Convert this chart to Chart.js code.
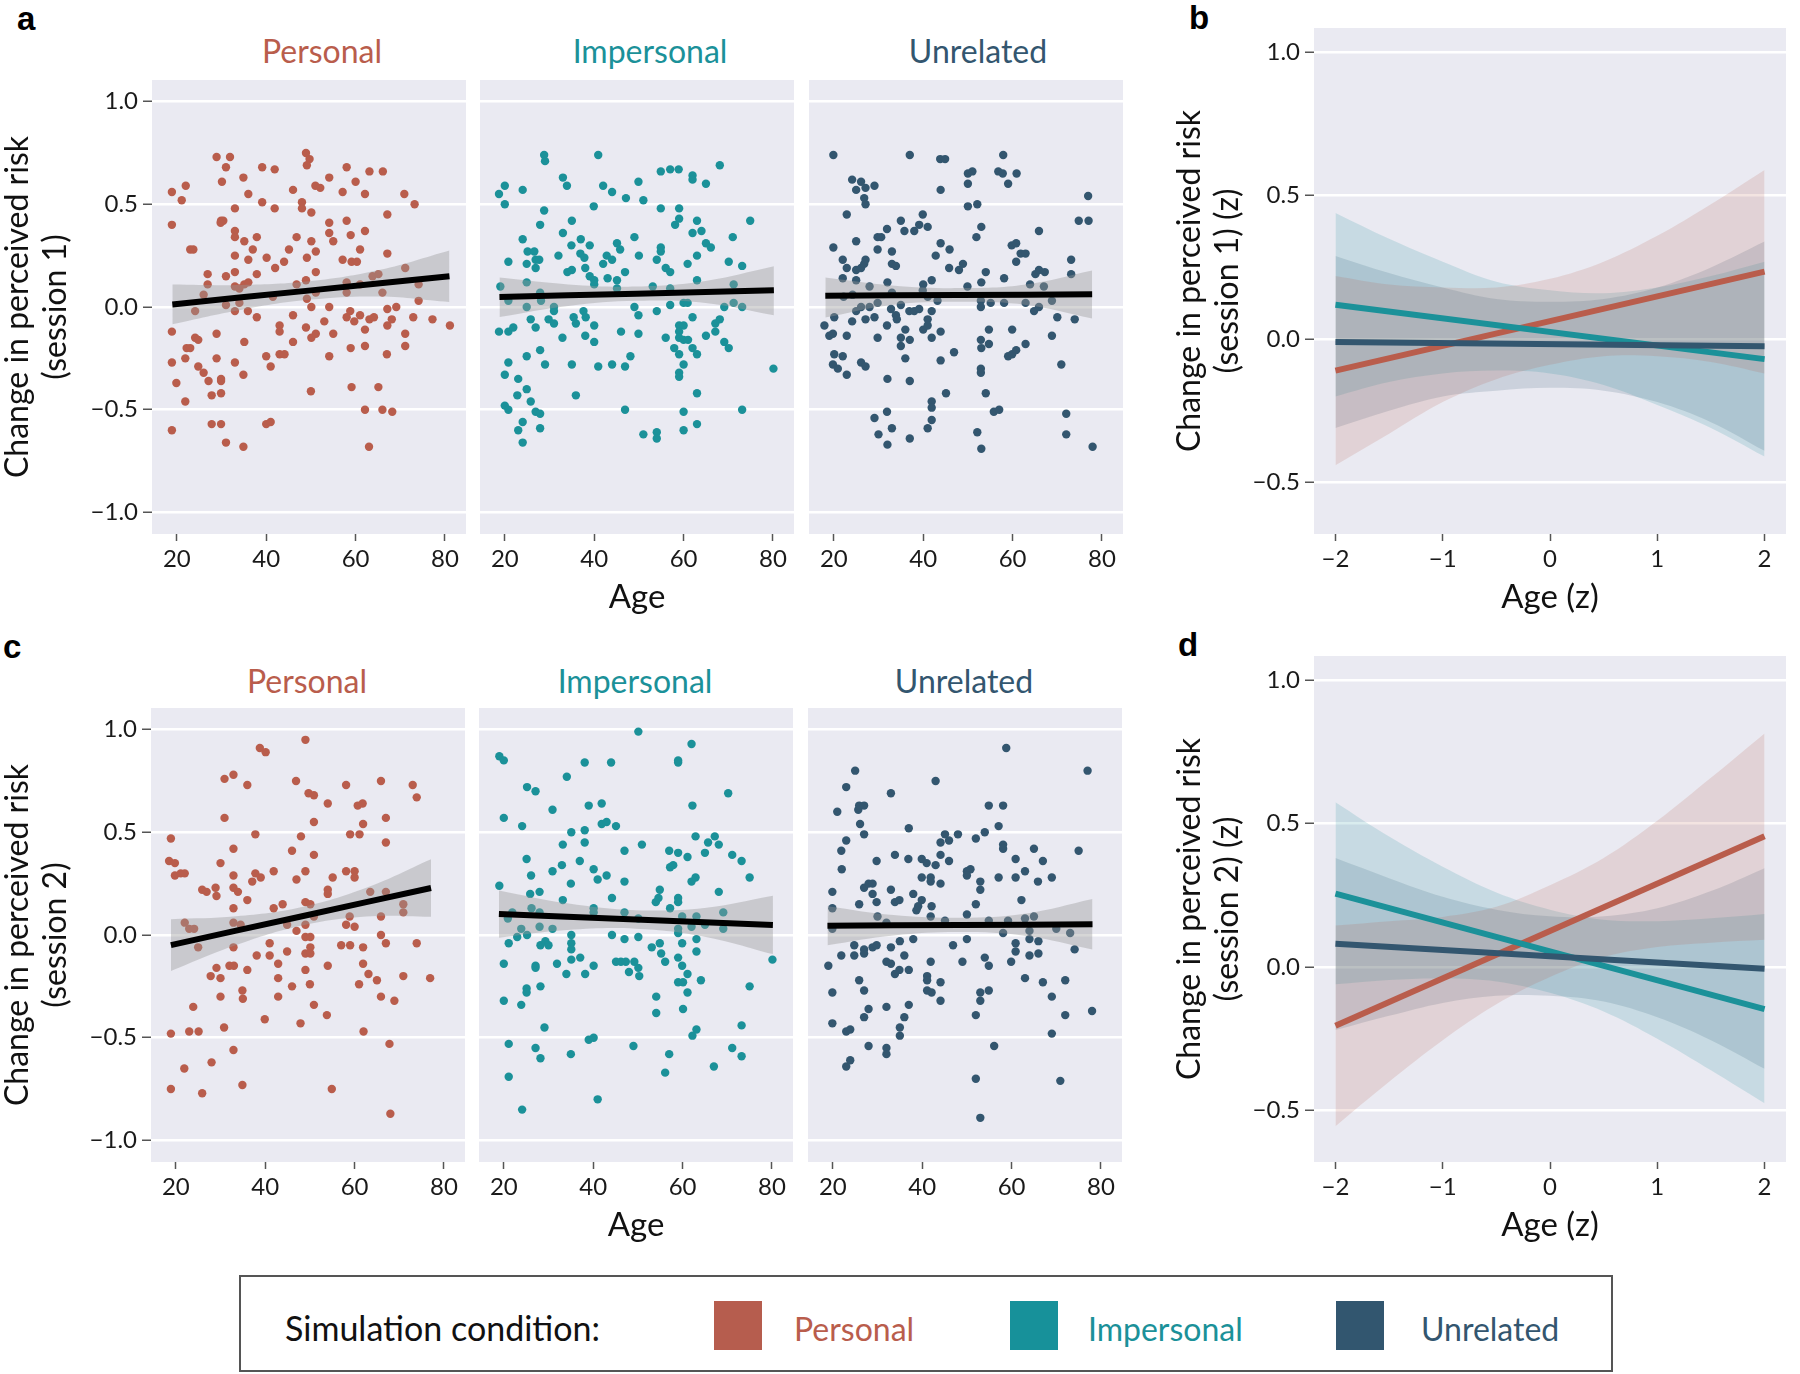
<!DOCTYPE html>
<html>
<head>
<meta charset="utf-8">
<title>Change in perceived risk by age</title>
<script src="https://cdn.jsdelivr.net/npm/chart.js@4.4.0/dist/chart.umd.min.js"></script>
<style>
  body { margin: 0; background: #fff; }
  #fig { position: relative; width: 1800px; height: 1374px; overflow: hidden; font-family: Lato, "Open Sans", sans-serif; }
  #fig canvas { position: absolute; }
  .letter { position: absolute; font: bold 33px "Liberation Sans", Arial, sans-serif; line-height: 1; color: #000; }
  .strip { position: absolute; width: 220px; text-align: center; font-size: 32px; line-height: 1; }
  .legend-box { position: absolute; left: 239px; top: 1275px; width: 1374px; height: 97px; border: 2px solid #555; box-sizing: border-box; }
  .legend-text { position: absolute; font-size: 32px; line-height: 1; white-space: nowrap; }
  .swatch { position: absolute; width: 48px; height: 49px; top: 1301px; }
</style>
</head>
<body>
<div id="fig">
  <div class="letter" style="left:17px;top:2px">a</div>
  <div class="letter" style="left:1189px;top:1px">b</div>
  <div class="letter" style="left:3px;top:630px">c</div>
  <div class="letter" style="left:1178px;top:628px">d</div>

  <div class="strip" style="left:212px;top:35px;color:#B95D4C">Personal</div>
  <div class="strip" style="left:540px;top:35px;color:#1B9199">Impersonal</div>
  <div class="strip" style="left:868px;top:35px;color:#33566F">Unrelated</div>
  <div class="strip" style="left:197px;top:665px;color:#B95D4C">Personal</div>
  <div class="strip" style="left:525px;top:665px;color:#1B9199">Impersonal</div>
  <div class="strip" style="left:854px;top:665px;color:#33566F">Unrelated</div>

  <div class="legend-box"></div>
  <div class="legend-text" style="left:285px;top:1311px;font-size:34px;color:#111">Simulation condition:</div>
  <div class="swatch" style="left:714px;background:#B65D4E"></div>
  <div class="legend-text" style="left:794px;top:1313px;color:#B95D4C">Personal</div>
  <div class="swatch" style="left:1010px;background:#17919A"></div>
  <div class="legend-text" style="left:1088px;top:1313px;color:#1B9199">Impersonal</div>
  <div class="swatch" style="left:1336px;background:#32566F"></div>
  <div class="legend-text" style="left:1421px;top:1313px;color:#33566F">Unrelated</div>
</div>

<script>
// ---- data ----
const conditions = ["Personal", "Impersonal", "Unrelated"];
const ageTicks = [20, 40, 60, 80];
const riskTicks = [-1, -0.5, 0, 0.5, 1];
const zTicks = [-2, -1, 0, 1, 2];
const zRiskTicks = [-0.5, 0, 0.5, 1];

// session 1, [age, change in perceived risk]
const s1Personal = [
  [28.9,0.73],[31.9,0.73],[31.0,0.68],[48.9,0.75],[49.7,0.72],[49.1,0.69],[39.1,0.68],[41.9,0.67],[34.9,0.63],[58.0,0.68],
  [63.1,0.66],[66.1,0.66],[54.1,0.63],[60.0,0.61],[30.1,0.61],[22.0,0.59],[18.9,0.56],[21.1,0.52],[36.0,0.55],[46.0,0.57],
  [51.0,0.59],[52.1,0.58],[57.1,0.56],[62.1,0.55],[70.9,0.55],[73.2,0.50],[33.0,0.48],[39.1,0.51],[41.9,0.48],[48.0,0.51],
  [48.0,0.48],[50.1,0.46],[67.1,0.45],[18.9,0.40],[29.9,0.42],[30.4,0.42],[29.8,0.41],[33.0,0.37],[33.0,0.34],[35.1,0.32],
  [37.9,0.34],[37.0,0.28],[46.8,0.34],[50.1,0.32],[54.1,0.41],[54.1,0.36],[55.0,0.32],[58.0,0.42],[58.9,0.35],[62.1,0.37],
  [61.0,0.28],[67.1,0.26],[23.0,0.28],[23.7,0.28],[33.0,0.25],[36.0,0.23],[40.1,0.24],[42.0,0.19],[44.0,0.22],[45.1,0.28],
  [49.1,0.24],[51.1,0.27],[57.1,0.23],[59.1,0.22],[60.3,0.22],[26.9,0.16],[26.9,0.11],[31.0,0.15],[33.0,0.17],[33.0,0.10],
  [34.0,0.09],[35.1,0.11],[36.0,0.12],[37.9,0.16],[26.0,0.06],[46.8,0.11],[48.9,0.13],[49.1,0.04],[51.1,0.17],[51.1,0.07],
  [58.0,0.12],[58.0,0.07],[61.0,0.11],[63.8,0.15],[65.1,0.16],[66.0,0.07],[71.1,0.19],[74.1,0.11],[74.1,0.03],[24.1,-0.02],
  [31.0,0.01],[33.0,-0.02],[34.0,0.02],[35.9,-0.02],[37.9,-0.05],[41.5,0.05],[46.0,-0.04],[50.1,0.00],[54.1,0.00],[53.0,-0.07],
  [58.0,-0.05],[58.8,-0.02],[59.7,-0.07],[61.0,-0.04],[62.1,-0.11],[63.1,-0.06],[64.1,-0.05],[67.1,-0.01],[67.1,-0.09],[68.1,-0.06],
  [69.1,0.00],[72.9,-0.05],[77.2,-0.06],[81.1,-0.09],[18.9,-0.12],[24.1,-0.15],[24.8,-0.16],[28.9,-0.13],[43.0,-0.09],[43.0,-0.12],
  [48.9,-0.10],[51.1,-0.13],[50.1,-0.15],[55.0,-0.13],[35.1,-0.17],[46.0,-0.17],[22.2,-0.20],[23.0,-0.20],[21.9,-0.25],[28.9,-0.25],
  [33.0,-0.27],[40.0,-0.24],[43.0,-0.23],[44.1,-0.23],[54.1,-0.24],[58.9,-0.20],[62.1,-0.19],[67.0,-0.23],[71.1,-0.13],[71.1,-0.19],
  [18.9,-0.27],[24.8,-0.29],[26.0,-0.32],[27.1,-0.36],[29.9,-0.35],[29.9,-0.36],[34.9,-0.33],[41.0,-0.29],[19.9,-0.37],[27.8,-0.43],
  [29.9,-0.42],[21.9,-0.46],[50.0,-0.41],[59.1,-0.39],[65.1,-0.39],[62.1,-0.50],[66.0,-0.50],[68.2,-0.51],[18.9,-0.60],[27.8,-0.57],
  [29.9,-0.57],[40.0,-0.57],[41.0,-0.56],[31.0,-0.66],[34.9,-0.68],[63.0,-0.68]
];
const s1Impersonal = [
  [28.8,0.74],[29.0,0.71],[40.9,0.74],[33.0,0.63],[33.9,0.59],[24.0,0.57],[20.0,0.59],[18.7,0.55],[20.0,0.50],[42.0,0.59],
  [44.0,0.56],[47.1,0.53],[49.9,0.61],[51.0,0.52],[54.9,0.66],[57.0,0.67],[58.9,0.67],[62.0,0.64],[62.0,0.62],[65.0,0.60],
  [68.1,0.69],[39.9,0.49],[28.8,0.47],[54.9,0.48],[59.0,0.48],[59.0,0.43],[58.1,0.40],[63.0,0.42],[62.0,0.36],[64.0,0.37],
  [74.9,0.42],[27.9,0.40],[35.0,0.42],[33.0,0.36],[24.0,0.33],[37.0,0.33],[34.9,0.30],[39.0,0.30],[49.0,0.34],[45.1,0.31],
  [45.8,0.28],[54.9,0.29],[54.9,0.27],[65.0,0.31],[66.1,0.29],[71.0,0.34],[25.1,0.27],[26.6,0.27],[26.9,0.23],[27.7,0.23],
  [32.0,0.25],[36.9,0.26],[37.8,0.24],[42.8,0.25],[44.0,0.23],[42.0,0.21],[50.0,0.25],[54.0,0.23],[56.0,0.19],[57.0,0.17],
  [60.9,0.21],[63.0,0.25],[70.1,0.22],[73.1,0.20],[20.8,0.22],[24.9,0.21],[26.9,0.19],[34.0,0.17],[35.0,0.18],[38.0,0.19],
  [39.0,0.15],[43.0,0.14],[45.1,0.13],[46.9,0.17],[24.9,0.12],[40.0,0.13],[40.0,0.11],[45.1,0.09],[53.1,0.10],[57.0,0.09],
  [63.0,0.13],[71.2,0.11],[19.0,0.10],[27.9,0.07],[28.1,0.03],[20.8,0.03],[24.9,0.00],[31.0,0.00],[31.0,-0.02],[35.4,-0.05],
  [37.6,-0.02],[38.1,-0.05],[49.0,0.00],[49.9,-0.04],[54.0,-0.02],[57.0,0.01],[60.0,0.02],[60.9,0.02],[62.0,-0.05],[69.1,0.00],
  [71.2,0.02],[73.1,0.00],[25.8,-0.06],[26.9,-0.10],[29.8,-0.06],[31.0,-0.08],[35.9,-0.08],[40.0,-0.09],[18.7,-0.12],[20.8,-0.12],
  [21.9,-0.10],[32.9,-0.15],[38.0,-0.14],[40.0,-0.17],[46.0,-0.12],[49.9,-0.13],[56.0,-0.15],[59.0,-0.09],[60.0,-0.09],[59.0,-0.12],
  [59.0,-0.15],[60.0,-0.16],[61.0,-0.16],[62.0,-0.20],[63.0,-0.23],[57.9,-0.20],[59.0,-0.23],[65.0,-0.14],[67.1,-0.12],[67.1,-0.08],
  [68.1,-0.06],[69.1,-0.17],[70.1,-0.20],[20.8,-0.27],[24.9,-0.24],[27.9,-0.21],[29.0,-0.28],[35.0,-0.28],[40.9,-0.29],[44.0,-0.28],
  [46.9,-0.29],[48.1,-0.24],[60.0,-0.28],[59.0,-0.32],[59.0,-0.34],[20.0,-0.33],[23.0,-0.35],[80.1,-0.30],[24.9,-0.40],[22.8,-0.43],
  [25.8,-0.46],[35.9,-0.43],[63.0,-0.42],[20.0,-0.48],[20.8,-0.50],[26.9,-0.51],[27.9,-0.52],[46.9,-0.50],[60.0,-0.51],[73.1,-0.50],
  [24.0,-0.56],[23.0,-0.60],[27.9,-0.59],[24.0,-0.66],[51.0,-0.62],[54.0,-0.61],[54.0,-0.64],[60.0,-0.60],[63.0,-0.57]
];
const s1Unrelated = [
  [19.9,0.74],[37.0,0.74],[43.8,0.72],[44.9,0.72],[57.9,0.74],[24.1,0.62],[26.1,0.61],[27.1,0.58],[25.0,0.57],[29.1,0.59],
  [26.8,0.53],[27.1,0.50],[43.9,0.57],[50.0,0.65],[51.0,0.66],[50.0,0.60],[56.8,0.66],[57.8,0.65],[60.9,0.65],[59.0,0.60],
  [76.9,0.54],[22.9,0.45],[39.9,0.45],[35.0,0.42],[35.8,0.37],[38.0,0.37],[39.1,0.40],[41.0,0.39],[50.0,0.49],[52.1,0.50],
  [53.0,0.39],[51.9,0.34],[74.8,0.42],[77.0,0.42],[65.9,0.37],[19.9,0.29],[25.0,0.32],[31.9,0.38],[29.8,0.34],[30.6,0.34],
  [29.8,0.28],[33.0,0.27],[22.0,0.23],[22.9,0.19],[25.0,0.18],[26.1,0.19],[27.1,0.23],[26.8,0.21],[33.0,0.21],[33.9,0.20],
  [43.9,0.31],[42.8,0.25],[45.9,0.28],[45.8,0.19],[48.0,0.18],[48.9,0.21],[59.8,0.30],[60.8,0.31],[61.8,0.26],[62.9,0.26],
  [60.8,0.22],[54.0,0.17],[53.0,0.12],[58.1,0.14],[65.1,0.16],[65.9,0.18],[67.2,0.17],[73.1,0.23],[73.1,0.16],[22.0,0.14],
  [25.0,0.13],[28.0,0.10],[32.0,0.12],[41.9,0.13],[40.0,0.11],[49.9,0.10],[63.9,0.11],[67.0,0.10],[24.2,0.06],[22.2,0.05],
  [39.9,0.08],[41.0,0.05],[43.2,0.03],[33.0,0.07],[29.8,0.02],[35.0,0.01],[52.9,0.03],[52.9,0.00],[55.1,0.02],[58.1,0.02],
  [62.9,0.02],[68.8,0.03],[64.8,-0.02],[65.9,0.00],[25.0,-0.02],[26.1,0.00],[28.0,0.00],[27.1,-0.06],[29.1,-0.05],[24.1,-0.07],
  [32.8,-0.01],[33.9,-0.04],[34.1,-0.06],[36.9,-0.02],[38.0,-0.02],[39.1,-0.01],[41.9,-0.02],[41.0,-0.06],[20.1,-0.05],[70.0,-0.05],
  [73.9,-0.06],[17.9,-0.09],[19.0,-0.14],[19.8,-0.13],[22.9,-0.14],[29.8,-0.15],[31.9,-0.09],[36.0,-0.11],[35.0,-0.15],[37.0,-0.16],
  [35.0,-0.19],[40.0,-0.11],[41.0,-0.09],[41.9,-0.15],[43.9,-0.12],[54.7,-0.11],[52.9,-0.16],[53.0,-0.20],[54.7,-0.18],[59.9,-0.11],
  [62.9,-0.18],[68.8,-0.14],[20.1,-0.23],[22.0,-0.24],[19.8,-0.28],[20.9,-0.30],[22.9,-0.33],[26.1,-0.27],[27.1,-0.29],[36.0,-0.25],
  [43.9,-0.26],[46.9,-0.22],[59.0,-0.24],[59.9,-0.23],[60.8,-0.21],[70.9,-0.28],[32.0,-0.35],[37.0,-0.36],[52.9,-0.30],[52.9,-0.32],
  [45.1,-0.42],[54.0,-0.42],[41.9,-0.46],[41.9,-0.49],[31.9,-0.51],[29.1,-0.54],[41.9,-0.55],[41.0,-0.59],[33.0,-0.59],[30.0,-0.62],
  [55.8,-0.51],[57.0,-0.50],[72.0,-0.52],[32.0,-0.67],[37.0,-0.64],[52.1,-0.61],[53.0,-0.69],[72.0,-0.62],[77.9,-0.68]
];

// session 2, [age, change in perceived risk]
const s2Personal = [
  [49.0,0.95],[38.8,0.91],[40.1,0.89],[30.9,0.76],[32.9,0.78],[36.0,0.73],[46.9,0.75],[58.1,0.73],[65.9,0.75],[73.0,0.73],
  [73.9,0.67],[49.7,0.69],[50.9,0.68],[54.0,0.64],[60.7,0.63],[61.8,0.64],[30.9,0.57],[50.9,0.55],[61.9,0.54],[67.0,0.57],
  [18.9,0.47],[37.8,0.49],[48.0,0.48],[59.0,0.49],[61.1,0.49],[67.0,0.45],[32.9,0.42],[46.0,0.41],[50.9,0.39],[18.5,0.36],
  [19.8,0.35],[30.0,0.35],[19.8,0.29],[21.1,0.30],[22.0,0.30],[32.9,0.29],[37.8,0.30],[37.1,0.26],[39.0,0.28],[41.9,0.31],
  [47.0,0.27],[49.0,0.31],[55.1,0.28],[58.1,0.31],[60.0,0.31],[60.0,0.28],[25.9,0.22],[26.9,0.21],[28.9,0.23],[29.1,0.19],
  [32.9,0.23],[33.9,0.21],[36.0,0.17],[54.0,0.22],[54.0,0.20],[63.5,0.21],[67.0,0.21],[32.9,0.13],[41.9,0.13],[43.9,0.15],
  [49.0,0.16],[50.1,0.15],[70.9,0.15],[70.9,0.11],[22.0,0.06],[23.0,0.03],[24.1,0.03],[32.9,0.06],[34.5,0.05],[44.9,0.05],
  [47.0,0.02],[49.0,0.05],[50.9,0.09],[58.9,0.09],[58.1,0.05],[60.0,0.04],[65.9,0.09],[25.0,-0.06],[32.9,-0.06],[41.0,-0.04],
  [38.1,-0.10],[41.0,-0.10],[44.9,-0.08],[49.0,-0.01],[50.1,-0.01],[50.1,-0.06],[49.0,-0.09],[50.1,-0.09],[57.0,-0.05],[59.0,-0.05],
  [61.9,-0.06],[65.9,0.00],[67.0,-0.04],[73.9,-0.04],[27.8,-0.20],[29.1,-0.16],[30.0,-0.21],[32.0,-0.15],[33.0,-0.15],[36.0,-0.17],
  [42.9,-0.14],[42.9,-0.21],[49.0,-0.17],[50.0,-0.24],[46.0,-0.25],[54.0,-0.15],[61.0,-0.24],[61.9,-0.14],[63.1,-0.19],[65.0,-0.22],
  [70.9,-0.20],[76.9,-0.21],[23.9,-0.35],[30.0,-0.30],[34.9,-0.27],[35.0,-0.31],[42.9,-0.30],[50.9,-0.34],[65.9,-0.30],[68.9,-0.32],
  [39.9,-0.41],[47.9,-0.43],[53.8,-0.39],[18.9,-0.48],[23.0,-0.47],[25.1,-0.47],[30.8,-0.45],[62.0,-0.47],[32.9,-0.56],[67.8,-0.53],
  [21.9,-0.65],[28.0,-0.62],[18.9,-0.75],[25.9,-0.77],[34.9,-0.73],[54.9,-0.75],[68.0,-0.87]
];
const s2Impersonal = [
  [19.0,0.87],[20.0,0.85],[50.1,0.99],[62.0,0.93],[38.1,0.84],[44.0,0.84],[59.0,0.85],[59.0,0.84],[34.1,0.77],[25.2,0.72],
  [27.1,0.70],[70.2,0.69],[30.9,0.61],[39.0,0.63],[41.9,0.64],[62.2,0.63],[20.0,0.57],[24.1,0.53],[41.9,0.54],[43.0,0.55],
  [45.1,0.53],[35.1,0.50],[38.1,0.51],[38.1,0.45],[62.9,0.48],[65.7,0.45],[67.2,0.48],[68.1,0.44],[33.2,0.44],[50.9,0.44],
  [47.0,0.41],[57.0,0.41],[59.0,0.40],[61.1,0.38],[65.0,0.40],[71.1,0.39],[73.2,0.36],[25.1,0.37],[33.0,0.34],[37.0,0.36],
  [30.9,0.31],[26.1,0.29],[40.1,0.32],[41.0,0.27],[43.0,0.29],[57.2,0.33],[57.9,0.34],[47.0,0.26],[62.0,0.26],[62.9,0.28],
  [75.0,0.28],[19.0,0.24],[35.0,0.25],[25.9,0.20],[28.0,0.21],[54.9,0.22],[54.0,0.16],[54.6,0.18],[59.0,0.18],[59.0,0.16],
  [33.2,0.17],[44.2,0.18],[68.1,0.21],[57.2,0.13],[63.1,0.09],[26.2,0.13],[21.9,0.11],[28.0,0.11],[20.9,0.08],[40.1,0.13],
  [40.1,0.11],[47.0,0.11],[50.1,0.08],[59.9,0.09],[62.0,0.04],[65.0,0.05],[69.1,0.11],[69.1,0.03],[59.0,0.03],[59.0,0.01],
  [23.9,0.03],[28.0,0.04],[30.9,0.03],[23.0,-0.01],[25.2,0.00],[21.1,-0.04],[28.2,-0.05],[29.3,-0.03],[30.0,-0.05],[35.1,0.00],
  [35.1,-0.04],[35.1,-0.07],[35.1,-0.12],[37.1,-0.11],[44.2,0.00],[47.0,-0.02],[50.1,-0.01],[53.1,-0.06],[54.9,-0.04],[55.2,-0.09],
  [56.1,-0.13],[59.0,-0.11],[59.9,-0.04],[63.1,-0.02],[63.1,-0.08],[20.0,-0.14],[27.1,-0.15],[27.1,-0.16],[31.9,-0.14],[34.0,-0.19],
  [38.2,-0.19],[40.1,-0.15],[45.1,-0.13],[46.2,-0.13],[47.3,-0.13],[49.2,-0.13],[50.1,-0.16],[48.0,-0.18],[50.3,-0.20],[59.9,-0.15],
  [61.1,-0.19],[59.0,-0.23],[60.1,-0.23],[61.1,-0.28],[64.1,-0.22],[80.1,-0.12],[28.2,-0.25],[25.1,-0.26],[25.1,-0.28],[54.1,-0.30],
  [54.1,-0.38],[60.1,-0.36],[75.0,-0.25],[20.0,-0.32],[23.9,-0.34],[29.1,-0.45],[39.0,-0.51],[40.1,-0.50],[21.1,-0.53],[27.1,-0.55],
  [28.2,-0.60],[35.0,-0.58],[49.0,-0.54],[57.0,-0.58],[62.2,-0.49],[63.1,-0.46],[73.2,-0.44],[71.1,-0.55],[73.2,-0.59],[67.0,-0.64],
  [21.1,-0.69],[24.1,-0.85],[41.0,-0.80],[56.1,-0.67]
];
const s2Unrelated = [
  [58.8,0.91],[77.0,0.80],[25.0,0.80],[23.0,0.72],[43.0,0.75],[33.0,0.69],[21.0,0.60],[25.7,0.61],[25.9,0.63],[27.0,0.63],
  [26.1,0.54],[27.0,0.49],[23.0,0.46],[37.0,0.52],[54.9,0.63],[58.1,0.63],[57.1,0.53],[45.1,0.49],[46.0,0.46],[44.1,0.45],
  [48.0,0.49],[52.0,0.47],[54.0,0.50],[58.1,0.44],[58.1,0.42],[65.0,0.42],[75.0,0.41],[21.9,0.41],[22.0,0.32],[29.8,0.36],
  [33.9,0.39],[36.9,0.37],[39.9,0.37],[41.0,0.35],[43.0,0.34],[44.1,0.39],[46.0,0.36],[60.9,0.37],[67.0,0.36],[50.0,0.31],
  [50.8,0.32],[50.0,0.29],[53.0,0.26],[53.0,0.22],[57.1,0.28],[60.9,0.28],[63.0,0.31],[65.9,0.26],[69.0,0.28],[39.9,0.28],
  [41.9,0.28],[41.9,0.26],[44.1,0.25],[27.0,0.23],[28.0,0.25],[28.9,0.25],[28.9,0.20],[29.8,0.16],[33.0,0.22],[33.9,0.16],
  [34.9,0.17],[38.0,0.20],[39.9,0.17],[39.1,0.14],[38.7,0.12],[42.1,0.14],[62.2,0.17],[52.0,0.15],[19.9,0.21],[25.9,0.15],
  [19.9,0.13],[30.0,0.09],[32.0,0.06],[41.9,0.09],[45.1,0.07],[50.0,0.10],[54.9,0.07],[59.2,0.07],[63.0,0.08],[65.0,0.09],
  [64.0,0.02],[64.0,-0.02],[66.0,-0.03],[70.0,0.03],[73.1,0.01],[58.1,0.01],[19.9,0.03],[74.1,-0.07],[24.8,-0.05],[27.0,-0.07],
  [28.9,-0.06],[29.8,-0.05],[33.0,-0.06],[35.0,-0.03],[38.0,-0.02],[50.0,-0.02],[46.9,-0.05],[21.9,-0.10],[24.8,-0.10],[27.0,-0.09],
  [32.0,-0.13],[33.0,-0.14],[36.0,-0.10],[34.9,-0.17],[33.9,-0.19],[37.0,-0.17],[41.9,-0.13],[41.1,-0.20],[41.1,-0.22],[44.1,-0.23],
  [49.0,-0.13],[54.0,-0.11],[54.9,-0.15],[59.9,-0.13],[60.9,-0.08],[60.9,-0.04],[64.0,-0.10],[66.0,-0.09],[63.0,-0.21],[67.0,-0.23],
  [72.0,-0.22],[19.0,-0.15],[25.9,-0.22],[27.0,-0.27],[19.9,-0.28],[28.0,-0.36],[32.0,-0.35],[37.0,-0.34],[41.1,-0.27],[42.1,-0.28],
  [44.1,-0.32],[53.0,-0.28],[53.0,-0.32],[54.9,-0.27],[52.0,-0.39],[36.0,-0.40],[27.0,-0.40],[19.9,-0.43],[23.0,-0.47],[23.9,-0.46],
  [35.0,-0.45],[35.0,-0.49],[69.0,-0.30],[72.0,-0.39],[69.0,-0.48],[78.0,-0.37],[28.0,-0.54],[32.0,-0.55],[32.0,-0.58],[23.0,-0.64],
  [23.9,-0.61],[56.1,-0.54],[52.0,-0.70],[70.9,-0.71],[53.0,-0.89]
];

// linear fits with 95% bands (facets)
const s1PersonalFitAge = [19, 34.5, 50, 65.5, 81];
const s1PersonalFit = [0.012, 0.047, 0.081, 0.116, 0.15];
const s1PersonalFitLow = [-0.084, -0.013, 0.036, 0.051, 0.024];
const s1PersonalFitHigh = [0.109, 0.107, 0.126, 0.181, 0.275];
const s1ImpersonalFitAge = [18.8, 34.2, 49.5, 64.9, 80.2];
const s1ImpersonalFit = [0.049, 0.057, 0.065, 0.073, 0.081];
const s1ImpersonalFitLow = [-0.049, 0.005, 0.03, 0.02, -0.04];
const s1ImpersonalFitHigh = [0.143, 0.11, 0.1, 0.127, 0.198];
const s1UnrelatedFitAge = [18.1, 33, 48, 63, 77.8];
const s1UnrelatedFit = [0.055, 0.057, 0.058, 0.06, 0.062];
const s1UnrelatedFitLow = [-0.051, 0.01, 0.025, 0.01, -0.056];
const s1UnrelatedFitHigh = [0.143, 0.105, 0.092, 0.11, 0.178];
const s2PersonalFitAge = [18.9, 33.5, 48, 62.6, 77.1];
const s2PersonalFit = [-0.049, 0.021, 0.09, 0.16, 0.229];
const s2PersonalFitLow = [-0.175, -0.049, 0.045, 0.09, 0.089];
const s2PersonalFitHigh = [0.077, 0.091, 0.135, 0.23, 0.369];
const s2ImpersonalFitAge = [18.9, 34.2, 49.5, 64.9, 80.2];
const s2ImpersonalFit = [0.102, 0.089, 0.076, 0.062, 0.049];
const s2ImpersonalFitLow = [-0.013, 0.024, 0.031, -0.008, -0.093];
const s2ImpersonalFitHigh = [0.217, 0.154, 0.121, 0.132, 0.191];
const s2UnrelatedFitAge = [18.8, 33.6, 48.5, 63.3, 78.1];
const s2UnrelatedFit = [0.045, 0.047, 0.049, 0.05, 0.052];
const s2UnrelatedFitLow = [-0.05, -0.003, 0.014, -0.005, -0.071];
const s2UnrelatedFitHigh = [0.14, 0.097, 0.084, 0.105, 0.175];

// model predictions over standardised age (panels b, d)
const lineZ = [-2, 2];
const bandZ = [-2, -1.5, -1, -0.5, 0, 0.5, 1, 1.5, 2];
const s1PersonalLine = [-0.11, 0.235];
const s1PersonalHigh = [0.22, 0.19, 0.18, 0.18, 0.21, 0.27, 0.36, 0.47, 0.59];
const s1PersonalLow = [-0.44, -0.33, -0.22, -0.14, -0.09, -0.06, -0.06, -0.08, -0.12];
const s1ImpersonalLine = [0.12, -0.07];
const s1ImpersonalHigh = [0.44, 0.35, 0.27, 0.2, 0.17, 0.16, 0.18, 0.22, 0.27];
const s1ImpersonalLow = [-0.2, -0.15, -0.12, -0.11, -0.12, -0.16, -0.23, -0.31, -0.41];
const s1UnrelatedLine = [-0.01, -0.025];
const s1UnrelatedHigh = [0.29, 0.23, 0.18, 0.14, 0.13, 0.14, 0.18, 0.25, 0.34];
const s1UnrelatedLow = [-0.31, -0.25, -0.2, -0.18, -0.17, -0.18, -0.22, -0.29, -0.39];
const s2PersonalLine = [-0.205, 0.456];
const s2PersonalHigh = [0.145, 0.16, 0.175, 0.21, 0.285, 0.38, 0.51, 0.66, 0.815];
const s2PersonalLow = [-0.555, -0.4, -0.255, -0.13, -0.035, 0.035, 0.07, 0.085, 0.095];
const s2ImpersonalLine = [0.256, -0.147];
const s2ImpersonalHigh = [0.575, 0.455, 0.35, 0.26, 0.2, 0.165, 0.16, 0.17, 0.185];
const s2ImpersonalLow = [-0.06, -0.045, -0.04, -0.05, -0.09, -0.155, -0.25, -0.36, -0.475];
const s2UnrelatedLine = [0.081, -0.006];
const s2UnrelatedHigh = [0.38, 0.31, 0.245, 0.2, 0.177, 0.177, 0.205, 0.265, 0.345];
const s2UnrelatedLow = [-0.22, -0.17, -0.125, -0.1, -0.1, -0.12, -0.175, -0.255, -0.355];

// ---- styling ----
const COLORS = { Personal: "#B95D4C", Impersonal: "#1B9199", Unrelated: "#33566F" };
const BANDS = { Personal: "rgba(185,93,76,0.17)", Impersonal: "rgba(27,145,153,0.17)", Unrelated: "rgba(51,86,111,0.17)" };
const PANEL_BG = "#EAEAF2";
const TICK_COLOR = "#555";

Chart.defaults.font.family = "Lato, 'Open Sans', sans-serif";
Chart.defaults.color = "#1a1a1a";

// grey panel behind each plot area
const panelBg = {
  id: "panelBg",
  beforeDraw(chart) {
    const a = chart.chartArea;
    const ctx = chart.ctx;
    ctx.save();
    ctx.fillStyle = PANEL_BG;
    ctx.fillRect(a.left, a.top, a.right - a.left, a.bottom - a.top);
    ctx.restore();
  }
};

function minusFmt(v, digits) {
  const s = Math.abs(v).toFixed(digits);
  return v < 0 ? "\u2212" + s : s;
}

function pairs(xs, ys) {
  return xs.map((x, i) => ({ x: x, y: ys[i] }));
}

function makeCanvas(box) {
  const c = document.createElement("canvas");
  c.width = box.w;
  c.height = box.h;
  c.style.left = box.left + "px";
  c.style.top = box.top + "px";
  c.style.width = box.w + "px";
  c.style.height = box.h + "px";
  document.getElementById("fig").appendChild(c);
  return c;
}

function xAxis(min, max, ticks, fmt, title) {
  return {
    type: "linear", min: min, max: max,
    afterBuildTicks: s => { s.ticks = ticks.map(v => ({ value: v })); },
    afterFit: s => { s.height = 90; s.paddingLeft = 0; s.paddingRight = 0; },
    border: { display: false },
    grid: { drawOnChartArea: false, tickLength: 7, tickColor: TICK_COLOR, tickWidth: 1.5 },
    ticks: { padding: 4, font: { size: 24 }, maxRotation: 0, callback: fmt },
    title: { display: !!title, text: title || "", font: { size: 33 }, color: "#111", padding: { top: 0, bottom: 7 } }
  };
}

function yAxis(min, max, ticks, width, title) {
  const show = width > 0;
  return {
    type: "linear", min: min, max: max,
    afterBuildTicks: s => { s.ticks = ticks.map(v => ({ value: v })); },
    // keep the plot area flush with the canvas top, like the facet panels
    afterFit: s => { s.width = width; s.paddingTop = 0; s.paddingBottom = 0; },
    border: { display: false },
    grid: { color: "#fff", lineWidth: 2.5, drawTicks: show, tickLength: 9, tickColor: TICK_COLOR, tickWidth: 1.5 },
    ticks: { display: show, padding: 5, font: { size: 24 }, callback: v => minusFmt(v, 1) },
    title: { display: !!title, text: title || "", font: { size: 32, lineHeight: 1.2 }, color: "#111", padding: { top: -2, bottom: 0 } }
  };
}

function baseOptions(scales) {
  return {
    responsive: false,
    animation: false,
    events: [],
    layout: { padding: 0, autoPadding: false },
    plugins: { legend: { display: false }, tooltip: { enabled: false } },
    scales: scales
  };
}

function drawFacet(box, cond, points, fitAge, fit, low, high, yWidth, yTitle, xTitle) {
  new Chart(makeCanvas(box), {
    type: "line",
    data: {
      datasets: [
        { data: points, showLine: false, pointRadius: 4.2, pointBorderWidth: 0, pointBackgroundColor: COLORS[cond], order: 3 },
        { data: pairs(fitAge, low), borderWidth: 0, borderColor: "transparent", pointRadius: 0, tension: 0.4, order: 2 },
        { data: pairs(fitAge, high), borderWidth: 0, borderColor: "transparent", pointRadius: 0, tension: 0.4,
          fill: "-1", backgroundColor: "rgba(153,153,153,0.4)", order: 2 },
        { data: pairs(fitAge, fit), borderColor: "#000", borderWidth: 6, pointRadius: 0, order: 1 }
      ]
    },
    options: baseOptions({
      x: xAxis(14.45, 84.7, ageTicks, v => String(v), xTitle),
      y: yAxis(-1.105, 1.105, riskTicks, yWidth, yTitle)
    }),
    plugins: [panelBg]
  });
}

function drawEffects(box, series, yTitle) {
  const datasets = [];
  series.forEach(s => {
    datasets.push({ data: pairs(bandZ, s.low), borderWidth: 0, borderColor: "transparent", pointRadius: 0, tension: 0.35, order: 10 });
    datasets.push({ data: pairs(bandZ, s.high), borderWidth: 0, borderColor: "transparent", pointRadius: 0, tension: 0.35,
                    fill: "-1", backgroundColor: BANDS[s.cond], order: 10 });
  });
  series.forEach((s, i) => {
    datasets.push({ data: pairs(lineZ, s.line), borderColor: COLORS[s.cond], borderWidth: 6, pointRadius: 0, order: 3 - i });
  });
  new Chart(makeCanvas(box), {
    type: "line",
    data: { datasets: datasets },
    options: baseOptions({
      x: xAxis(-2.2, 2.2, zTicks, v => minusFmt(v, 0), "Age (z)"),
      y: yAxis(-0.68, 1.085, zRiskTicks, 142, yTitle)
    }),
    plugins: [panelBg]
  });
}

// ---- panels a and c ----
const title1 = ["Change in perceived risk", "(session 1)"];
const title2 = ["Change in perceived risk", "(session 2)"];

drawFacet({ left: 0, top: 80, w: 466, h: 544 }, "Personal", s1Personal,
  s1PersonalFitAge, s1PersonalFit, s1PersonalFitLow, s1PersonalFitHigh, 152, title1, "");
drawFacet({ left: 480, top: 80, w: 314, h: 544 }, "Impersonal", s1Impersonal,
  s1ImpersonalFitAge, s1ImpersonalFit, s1ImpersonalFitLow, s1ImpersonalFitHigh, 0, "", "Age");
drawFacet({ left: 809, top: 80, w: 314, h: 544 }, "Unrelated", s1Unrelated,
  s1UnrelatedFitAge, s1UnrelatedFit, s1UnrelatedFitLow, s1UnrelatedFitHigh, 0, "", "");

drawFacet({ left: 0, top: 708, w: 465, h: 544 }, "Personal", s2Personal,
  s2PersonalFitAge, s2PersonalFit, s2PersonalFitLow, s2PersonalFitHigh, 151, title2, "");
drawFacet({ left: 479, top: 708, w: 314, h: 544 }, "Impersonal", s2Impersonal,
  s2ImpersonalFitAge, s2ImpersonalFit, s2ImpersonalFitLow, s2ImpersonalFitHigh, 0, "", "Age");
drawFacet({ left: 808, top: 708, w: 314, h: 544 }, "Unrelated", s2Unrelated,
  s2UnrelatedFitAge, s2UnrelatedFit, s2UnrelatedFitLow, s2UnrelatedFitHigh, 0, "", "");

// ---- panels b and d ----
drawEffects({ left: 1172, top: 28, w: 614, h: 596 }, [
  { cond: "Personal", line: s1PersonalLine, low: s1PersonalLow, high: s1PersonalHigh },
  { cond: "Impersonal", line: s1ImpersonalLine, low: s1ImpersonalLow, high: s1ImpersonalHigh },
  { cond: "Unrelated", line: s1UnrelatedLine, low: s1UnrelatedLow, high: s1UnrelatedHigh }
], ["Change in perceived risk", "(session 1) (z)"]);

drawEffects({ left: 1172, top: 656, w: 614, h: 596 }, [
  { cond: "Personal", line: s2PersonalLine, low: s2PersonalLow, high: s2PersonalHigh },
  { cond: "Impersonal", line: s2ImpersonalLine, low: s2ImpersonalLow, high: s2ImpersonalHigh },
  { cond: "Unrelated", line: s2UnrelatedLine, low: s2UnrelatedLow, high: s2UnrelatedHigh }
], ["Change in perceived risk", "(session 2) (z)"]);
</script>
</body>
</html>
